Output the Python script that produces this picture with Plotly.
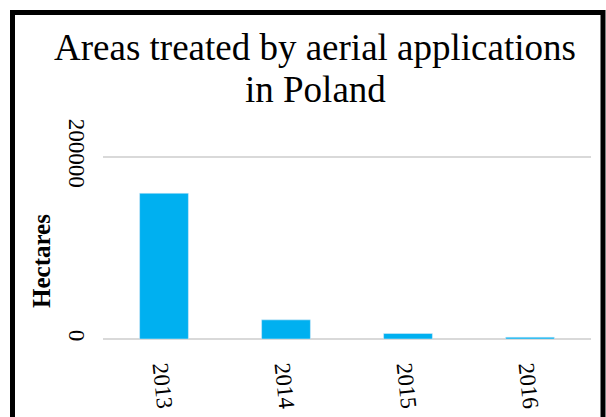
import plotly.graph_objects as go

years = ["2013", "2014", "2015", "2016"]
hectares = [160000, 21000, 6000, 2000]
y_ticks = [0, 200000]
y_tick_labels = ["0", "200000"]
title_lines = ["Areas treated by aerial applications", "in Poland"]
y_title = "Hectares"

W, H = 606, 417
L, R, T, B = 103, 15, 155, 78
pw, ph = W - L - R, H - T - B
Y_MAX = 202000

def px_x(p):
    return (p - L) / pw

def px_y(p):
    return (H - B - p) / ph

FONT = "Liberation Serif, Times New Roman, serif"

fig = go.Figure(go.Bar(x=years, y=hectares, marker_color="#00B0F0", width=0.4))

fig.update_layout(
    width=W, height=H,
    margin=dict(l=L, r=R, t=T, b=B, autoexpand=False),
    paper_bgcolor="white", plot_bgcolor="white",
    showlegend=False,
    font=dict(family=FONT, color="black", size=23),
)
fig.update_xaxes(
    type="category", showgrid=False, showline=False, ticks="",
    tickangle=84, tickfont=dict(family=FONT, size=23, color="black"),
    ticklabelstandoff=11, automargin=False,
)
fig.update_yaxes(
    range=[0, Y_MAX], tickvals=y_ticks, ticktext=y_tick_labels,
    showgrid=True, gridcolor="#d9d9d9", gridwidth=2,
    zeroline=True, zerolinecolor="#d9d9d9", zerolinewidth=2,
    showline=False, ticks="", tickangle=90,
    tickfont=dict(family=FONT, size=23, color="black"),
    ticklabelstandoff=10, automargin=False,
)

annotations = [
    dict(text=title_lines[0], x=px_x(315), y=px_y(47.5), xref="paper", yref="paper",
         showarrow=False, xanchor="center", yanchor="middle",
         font=dict(family=FONT, size=37, color="black")),
    dict(text=title_lines[1], x=px_x(315), y=px_y(89.5), xref="paper", yref="paper",
         showarrow=False, xanchor="center", yanchor="middle",
         font=dict(family=FONT, size=37, color="black")),
    dict(text="<b>" + y_title + "</b>", x=px_x(41), y=px_y(261), xref="paper", yref="paper",
         showarrow=False, xanchor="center", yanchor="middle", textangle=-90,
         font=dict(family=FONT, size=25, color="black")),
]
fig.update_layout(annotations=annotations)

# black frame around chart (partially cut off)
fig.add_shape(type="rect", xref="paper", yref="paper",
              x0=px_x(12.5), x1=px_x(603), y0=px_y(440), y1=px_y(12.5),
              line=dict(color="black", width=5), fillcolor="rgba(0,0,0,0)", layer="above")

fig.write_html("out.html", config={"displayModeBar": False},
               post_script="document.body.style.margin='0';document.body.style.overflow='hidden';")
